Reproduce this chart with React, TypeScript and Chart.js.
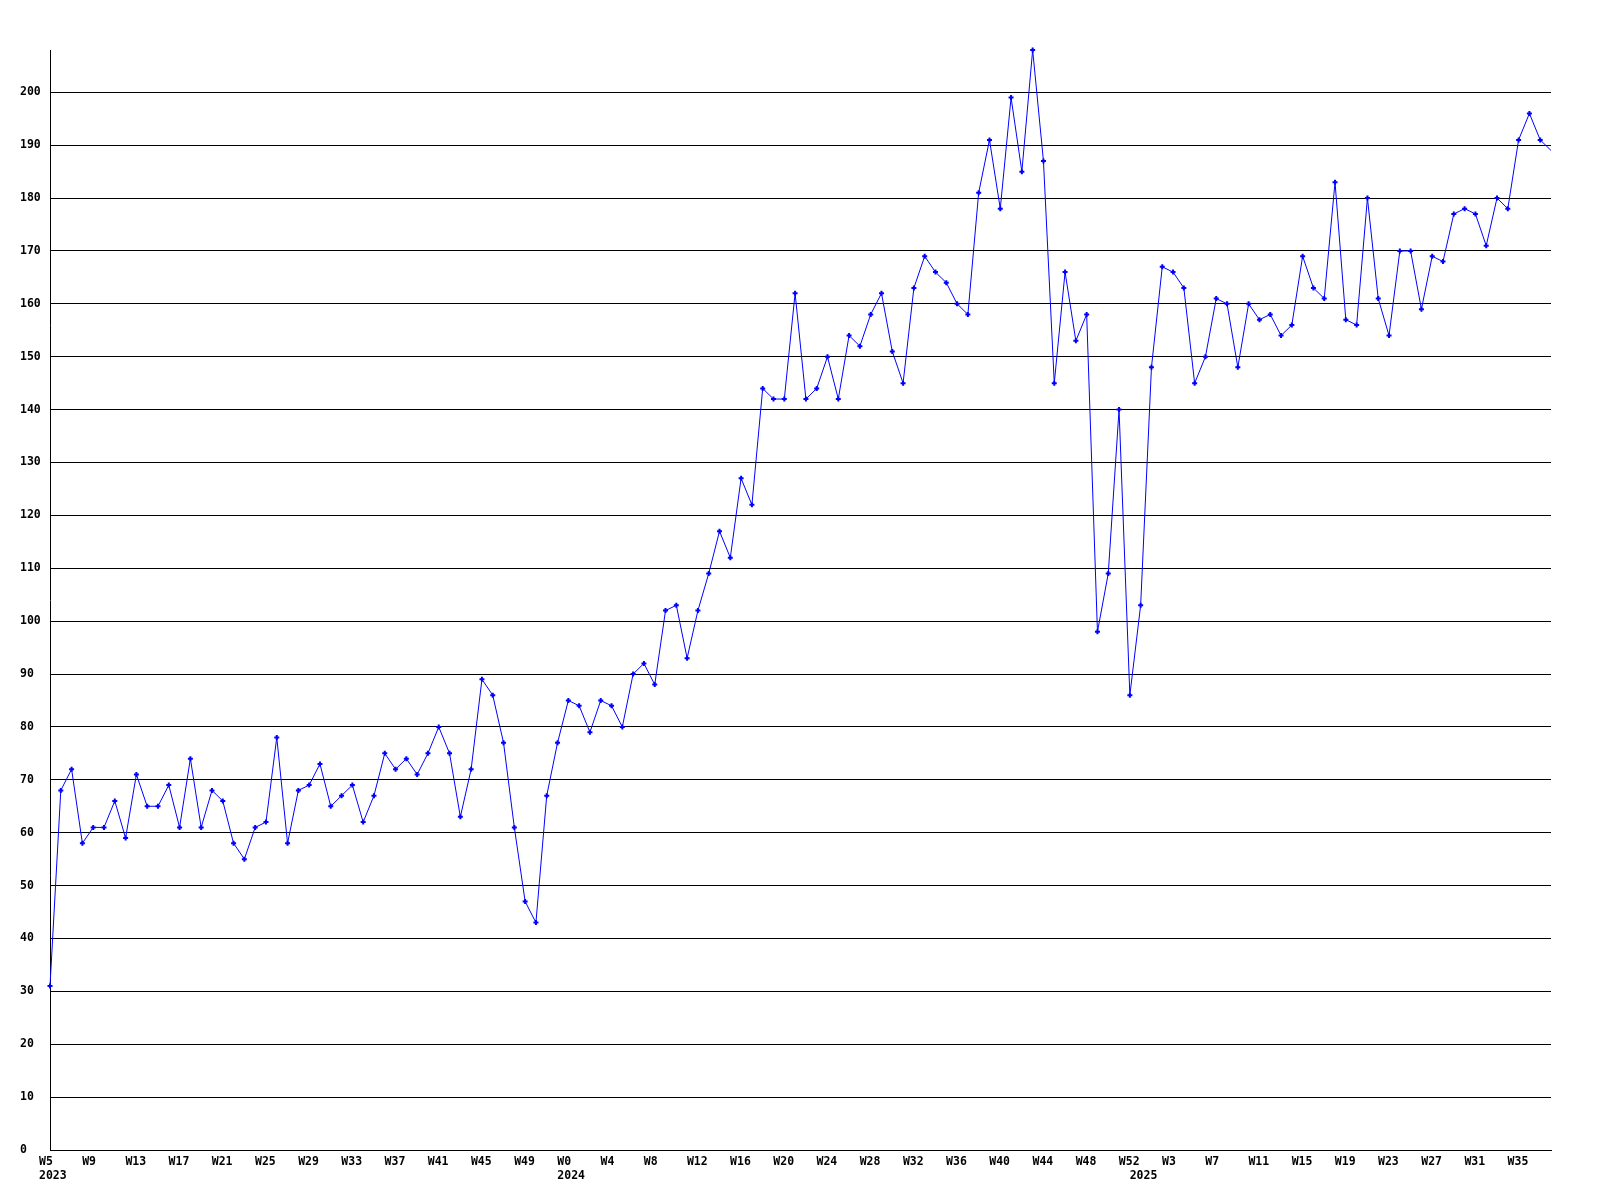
import React, { useEffect, useRef } from 'react';
import { Chart, registerables } from 'chart.js';

Chart.register(...registerables);

// Week categories per year
const weeks2023 = [
  'W5', 'W6', 'W7', 'W8', 'W9', 'W10', 'W11', 'W12', 'W13', 'W14', 'W15', 'W16',
  'W17', 'W18', 'W19', 'W20', 'W21', 'W22', 'W23', 'W24', 'W25', 'W26', 'W27', 'W28',
  'W29', 'W30', 'W31', 'W32', 'W33', 'W34', 'W35', 'W36', 'W37', 'W38', 'W39', 'W40',
  'W41', 'W42', 'W43', 'W44', 'W45', 'W46', 'W47', 'W48', 'W49', 'W50', 'W51', 'W52',
];
const weeks2024 = [
  'W0', 'W1', 'W2', 'W3', 'W4', 'W5', 'W6', 'W7', 'W8', 'W9', 'W10', 'W11', 'W12',
  'W13', 'W14', 'W15', 'W16', 'W17', 'W18', 'W19', 'W20', 'W21', 'W22', 'W23', 'W24',
  'W25', 'W26', 'W27', 'W28', 'W29', 'W30', 'W31', 'W32', 'W33', 'W34', 'W35', 'W36',
  'W37', 'W38', 'W39', 'W40', 'W41', 'W42', 'W43', 'W44', 'W45', 'W46', 'W47', 'W48',
  'W49', 'W50', 'W51', 'W52',
];
const weeks2025 = [
  'W0', 'W1', 'W2', 'W3', 'W4', 'W5', 'W6', 'W7', 'W8', 'W9', 'W10', 'W11', 'W12',
  'W13', 'W14', 'W15', 'W16', 'W17', 'W18', 'W19', 'W20', 'W21', 'W22', 'W23', 'W24',
  'W25', 'W26', 'W27', 'W28', 'W29', 'W30', 'W31', 'W32', 'W33', 'W34', 'W35', 'W36',
  'W37', 'W38',
];

// Values per year
const values2023 = [
  31, 68, 72, 58, 61, 61, 66, 59, 71, 65, 65, 69,
  61, 74, 61, 68, 66, 58, 55, 61, 62, 78, 58, 68,
  69, 73, 65, 67, 69, 62, 67, 75, 72, 74, 71, 75,
  80, 75, 63, 72, 89, 86, 77, 61, 47, 43, 67, 77,
];
const values2024 = [
  85, 84, 79, 85, 84, 80, 90, 92, 88, 102, 103, 93, 102,
  109, 117, 112, 127, 122, 144, 142, 142, 162, 142, 144, 150,
  142, 154, 152, 158, 162, 151, 145, 163, 169, 166, 164, 160,
  158, 181, 191, 178, 199, 185, 208, 187, 145, 166, 153, 158,
  98, 109, 140, 86,
];
const values2025 = [
  103, 148, 167, 166, 163, 145, 150, 161, 160, 148, 160, 157, 158,
  154, 156, 169, 163, 161, 183, 157, 156, 180, 161, 154, 170,
  170, 159, 169, 168, 177, 178, 177, 171, 180, 178, 191, 196,
  191, 189,
];

const yearNames = ['2023', '2024', '2025'];
const yAxisMax = 208;
const yStep = 10;
const labelEvery = 4;

const categories = [...weeks2023, ...weeks2024, ...weeks2025];
const values = [...values2023, ...values2024, ...values2025];
const yearStart: Record<number, string> = {
  0: yearNames[0],
  [weeks2023.length]: yearNames[1],
  [weeks2023.length + weeks2024.length]: yearNames[2],
};

const FONT = { family: '"DejaVu Sans Mono", "Liberation Mono", monospace', size: 11.5, weight: 'bold' as const };

export default function App() {
  const ref = useRef<HTMLCanvasElement | null>(null);

  useEffect(() => {
    if (!ref.current) return;
    const last = values.length - 1;
    const chart = new Chart(ref.current, {
      type: 'line',
      data: {
        labels: categories,
        datasets: [
          {
            data: values,
            borderColor: '#0000ff',
            backgroundColor: '#0000ff',
            borderWidth: 1,
            tension: 0,
            pointStyle: 'cross',
            pointRadius: (ctx: any) => (ctx.dataIndex === last ? 0 : 2.5),
            pointBorderWidth: 2,
            pointBorderColor: '#0000ff',
            pointBackgroundColor: '#0000ff',
            clip: false as any,
          },
        ],
      },
      options: {
        responsive: false,
        devicePixelRatio: 1,
        animation: false,
        layout: { padding: { left: 20, top: 50, right: 49, bottom: 0 } },
        plugins: { legend: { display: false }, tooltip: { enabled: false } },
        scales: {
          x: {
            type: 'category',
            offset: false,
            grid: { display: false, drawTicks: false },
            border: { display: true, color: '#000', width: 1 },
            ticks: {
              autoSkip: false,
              maxRotation: 0,
              minRotation: 0,
              align: 'start',
              labelOffset: -11,
              padding: 5,
              color: '#000',
              font: FONT,
              callback: (_v: any, idx: number) => {
                const w = idx % labelEvery === 0 ? categories[idx] : '';
                const y = yearStart[idx];
                return y ? [w, y] : w;
              },
            },
            afterFit: (s: any) => {
              s.height = 50;
            },
          },
          y: {
            type: 'linear',
            min: 0,
            max: yAxisMax,
            bounds: 'data',
            grid: { color: '#000', lineWidth: 1, drawTicks: false },
            border: { display: true, color: '#000', width: 1 },
            ticks: {
              stepSize: yStep,
              includeBounds: false,
              crossAlign: 'far',
              color: '#000',
              font: FONT,
            },
            afterBuildTicks: (s: any) => {
              s.ticks = s.ticks.filter((t: any) => t.value % yStep === 0);
            },
            afterFit: (s: any) => {
              s.width = 30;
            },
          },
        },
      } as any,
    });
    return () => chart.destroy();
  }, []);

  return (
    <div style={{ position: 'fixed', left: 0, top: 0, width: 1600, height: 1200, background: '#fff' }}>
      <canvas ref={ref} width={1600} height={1200} style={{ display: 'block', width: 1600, height: 1200 }} />
    </div>
  );
}
